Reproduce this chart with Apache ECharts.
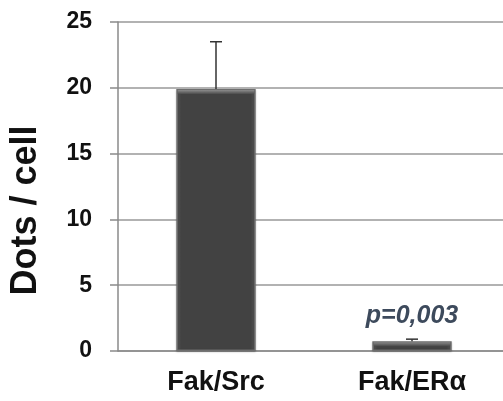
<!DOCTYPE html>
<html><head><meta charset="utf-8">
<script src="https://cdn.jsdelivr.net/npm/echarts@6/dist/echarts.min.js"></script>
<style>html,body{margin:0;padding:0;background:#fff}#c{width:503px;height:401px}</style>
</head><body><div id="c"></div>
<script>
const categories = ['Fak/Src', 'Fak/ERα'];
const means = [19.9, 0.75];
const errTops = [23.5, 0.9];
const annotations = ['', 'p=0,003'];
const yTicks = [0, 5, 10, 15, 20, 25];

const chart = echarts.init(document.getElementById('c'));
chart.setOption({
  animation: false,
  grid: { left: 118, width: 392, top: 22, bottom: 50, outerBoundsMode: 'none', containLabel: false },
  xAxis: {
    type: 'category', data: categories,
    axisLine: { lineStyle: { color: '#8a8a8a', width: 1.5 } },
    axisTick: { show: false },
    axisLabel: { color: '#111', fontFamily: 'Liberation Sans', fontWeight: 'bold', fontSize: 27, margin: 18 }
  },
  yAxis: {
    type: 'value', min: yTicks[0], max: yTicks[yTicks.length - 1], interval: 5,
    name: 'Dots / cell', nameLocation: 'middle', nameGap: 74,
    nameTextStyle: { color: '#111', fontFamily: 'Liberation Sans', fontWeight: 'bold', fontSize: 36, padding: [0, 48, 0, 0] },
    axisLine: { show: true, lineStyle: { color: '#8a8a8a', width: 1.5 } },
    axisTick: { show: true, inside: false, length: 8, lineStyle: { color: '#8a8a8a', width: 1.5 } },
    splitLine: { lineStyle: { color: '#999', width: 1.5 } },
    axisLabel: { color: '#111', fontFamily: 'Liberation Sans', fontWeight: 'bold', fontSize: 23, margin: 26 }
  },
  series: [
    {
      type: 'bar', data: means, barWidth: '40.5%',
      itemStyle: {
        color: new echarts.graphic.LinearGradient(0, 0, 1, 0, [
          { offset: 0, color: '#5a5a5a' }, { offset: 0.06, color: '#424242' },
          { offset: 0.94, color: '#424242' }, { offset: 1, color: '#5a5a5a' }
        ]),
        borderColor: '#6e6e6e', borderWidth: 1.5,
        shadowColor: 'rgba(0,0,0,0.25)', shadowBlur: 2, shadowOffsetY: 1
      },
      label: {
        show: true, position: 'top', distance: 13,
        formatter: p => annotations[p.dataIndex],
        color: '#3d4a5c', fontFamily: 'Liberation Sans', fontWeight: 'bold', fontStyle: 'italic', fontSize: 25
      },
      z: 2
    },
    {
      type: 'custom',
      data: categories.map((c, i) => [i, means[i], errTops[i]]),
      renderItem: (params, api) => {
        const x = api.value(0);
        const lo = api.coord([x, api.value(1)]);
        const hi = api.coord([x, api.value(2)]);
        const bw = api.size([1, 0])[0] * 0.405;
        const hw = 6;
        return {
          type: 'group',
          children: [
            { type: 'rect', shape: { x: lo[0] - bw / 2 + 1.5, y: lo[1] + 1, width: bw - 3, height: 4 },
              style: { fill: new echarts.graphic.LinearGradient(0, 0, 0, 1, [
                { offset: 0, color: '#8a8a8a' }, { offset: 1, color: '#4a4a4a' }]) } },
            { type: 'line', shape: { x1: lo[0], y1: lo[1], x2: hi[0], y2: hi[1] }, style: { stroke: '#333', lineWidth: 1.5 } },
            { type: 'line', shape: { x1: hi[0] - hw, y1: hi[1], x2: hi[0] + hw, y2: hi[1] }, style: { stroke: '#333', lineWidth: 1.5 } }
          ]
        };
      },
      z: 3
    }
  ]
});
</script></body></html>
